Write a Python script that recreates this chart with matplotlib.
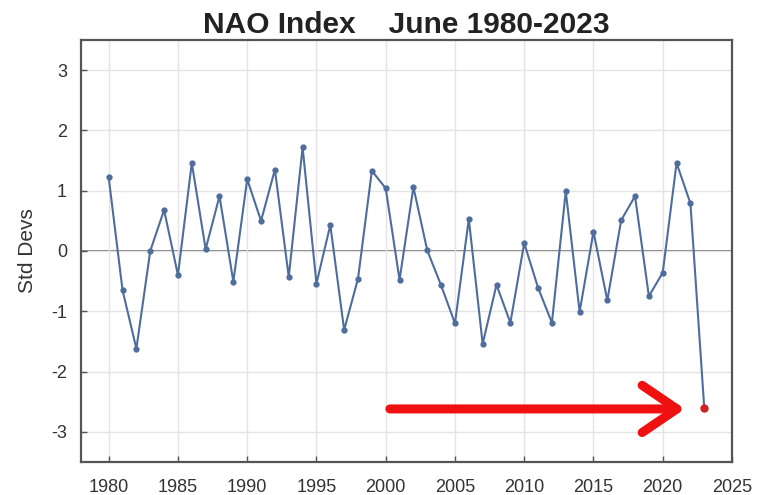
import matplotlib
matplotlib.use("Agg")
import matplotlib.pyplot as plt

years = list(range(1980, 2024))
nao = [1.22, -0.65, -1.62, 0.00, 0.68, -0.40, 1.46, 0.03, 0.91, -0.51,
       1.19, 0.50, 1.35, -0.43, 1.72, -0.54, 0.43, -1.31, -0.46, 1.33,
       1.04, -0.48, 1.06, 0.01, -0.57, -1.20, 0.53, -1.54, -0.56, -1.19,
       0.13, -0.61, -1.19, 0.99, -1.01, 0.32, -0.82, 0.51, 0.91, -0.75,
       -0.36, 1.46, 0.79, -2.61]
xticks = list(range(1980, 2026, 5))
yticks = [-3, -2, -1, 0, 1, 2, 3]
arrow_start = (2000.3, -2.62)
arrow_end = (2021.6, -2.62)

plt.rcParams['font.family'] = ['Liberation Sans', 'DejaVu Sans']
plt.rcParams['axes.unicode_minus'] = False

fig = plt.figure(figsize=(7.59, 4.95), dpi=100)
ax = fig.add_axes([0.1067, 0.0667, 0.8577, 0.8525])

ax.grid(True, color='#e4e4e4', linewidth=1.0, zorder=0)
ax.axhline(0, color='#6e6e6e', linewidth=1.3, zorder=1)
line_color = '#4f6d9c'
ax.plot(years[:-1], nao[:-1], color=line_color, linewidth=1.5, marker='o',
        markersize=3.5, zorder=3)
ax.plot(years[-2:], nao[-2:], color=line_color, linewidth=1.5, zorder=3)
ax.plot(years[-1], nao[-1], 'o', color='#d42020', markersize=5, zorder=4)

ax.annotate('', xy=arrow_end, xytext=arrow_start,
            arrowprops=dict(arrowstyle='->, head_length=1.25, head_width=0.85',
                            mutation_scale=20, color='#f01010', lw=6.5,
                            capstyle='round', joinstyle='round',
                            shrinkA=0, shrinkB=0), zorder=5)

ax.set_xlim(1978, 2025)
ax.set_ylim(-3.5, 3.5)
ax.set_xticks(xticks)
ax.set_yticks(yticks)
ax.tick_params(direction='in', length=4, width=1, colors='#555555',
               labelcolor='#333333', labelsize=13)
ax.tick_params(axis='y', pad=10)
ax.tick_params(axis='x', pad=12)
for s in ax.spines.values():
    s.set_color('#555555')
    s.set_linewidth(1.6)

ax.set_ylabel('Std Devs', fontsize=15, color='#333333', labelpad=10)
ax.set_title('NAO Index    June 1980-2023', fontsize=21.5, fontweight='bold',
             color='#222222', pad=5)

fig.savefig('out.png', dpi=100)
